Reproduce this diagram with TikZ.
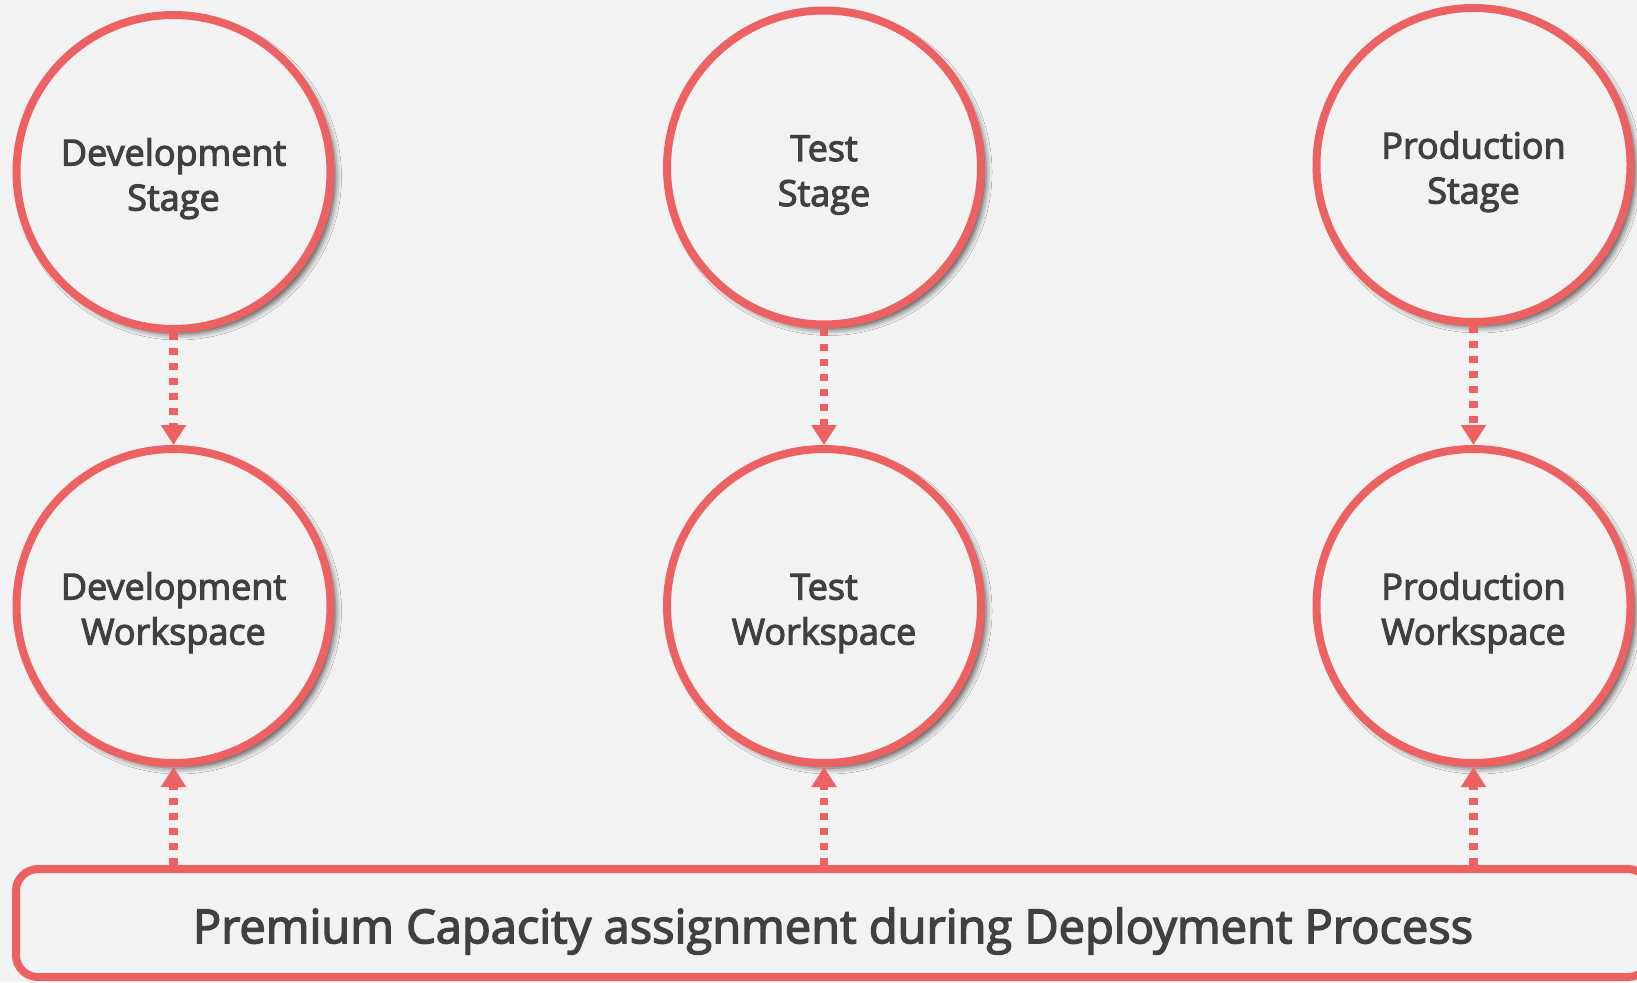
\documentclass[tikz,border=0pt]{standalone}
\usepackage{fontspec}
\setmainfont{Open Sans}
\newfontfamily\lblfont{Open Sans}[FakeBold=3]
\usetikzlibrary{arrows.meta,shadows.blur}
\definecolor{accent}{RGB}{236,98,98}
\definecolor{txt}{RGB}{64,64,64}
\definecolor{bg}{RGB}{242,242,242}
\newcommand{\twolines}[2]{\raisebox{-7pt}[\height][\depth]{\setlength{\tabcolsep}{0pt}\begin{tabular}{c}#1\\#2\end{tabular}}}
\tikzset{
  stagecircle/.style={circle, draw=accent, line width=8pt, fill=bg,
    minimum size=314pt, inner sep=0pt, text=txt, align=center,
    font=\lblfont\fontsize{36}{45}\selectfont,
    blur shadow={shadow xshift=5pt, shadow yshift=-5pt, shadow blur radius=6pt, shadow opacity=70}},
  capbox/.style={rectangle, rounded corners=22pt, draw=accent, line width=8pt, fill=bg,
    minimum width=1634pt, minimum height=108pt, text=txt,
    font=\lblfont\fontsize{47}{56}\selectfont},
  flow/.style={accent, line width=8.5pt, dash pattern=on 7pt off 8pt,
    -{Triangle[length=20pt,width=24pt]}}
}
\begin{document}
\begin{tikzpicture}[x=1pt,y=-1pt]
\useasboundingbox (0,0) rectangle (1637,982);
\fill[bg] (0,0) rectangle (1637,982);
\node[stagecircle] (ds) at (173.5,172) {\twolines{Development}{Stage}};
\node[stagecircle] (ts) at (824,167.5) {\twolines{Test}{Stage}};
\node[stagecircle] (ps) at (1473.5,165) {\twolines{Production}{Stage}};
\node[stagecircle] (dw) at (173.5,606) {\twolines{Development}{Workspace}};
\node[stagecircle] (tw) at (824,606) {\twolines{Test}{Workspace}};
\node[stagecircle] (pw) at (1473.5,606) {\twolines{Production}{Workspace}};
\node[capbox] (cap) at (833,923) {\raisebox{-8pt}[\height][\depth]{Premium Capacity assignment during Deployment Process}};
\draw[flow] (ds.south) -- (dw.north);
\draw[flow] (ts.south) -- (tw.north);
\draw[flow] (ps.south) -- (pw.north);
\draw[flow] (dw.south |- cap.north) -- (dw.south);
\draw[flow] (tw.south |- cap.north) -- (tw.south);
\draw[flow] (pw.south |- cap.north) -- (pw.south);
\end{tikzpicture}
\end{document}
